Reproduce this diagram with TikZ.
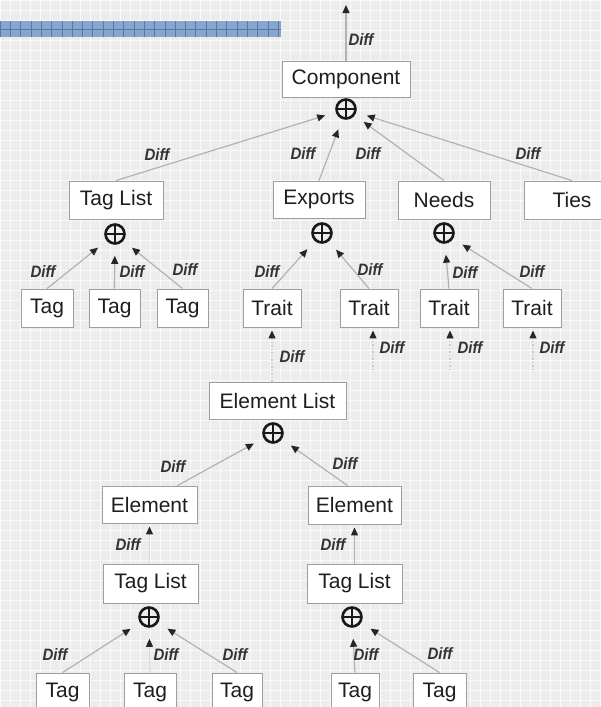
\documentclass[tikz,border=0pt]{standalone}
\usepackage{fontspec}
\setmainfont{Liberation Sans}
\usetikzlibrary{arrows.meta}
\definecolor{bgc}{RGB}{236,236,236}
\definecolor{barc}{RGB}{135,165,205}
\definecolor{barl}{RGB}{85,120,170}
\definecolor{linec}{RGB}{178,178,178}
\definecolor{txt}{RGB}{30,30,30}
\tikzset{
  box/.style={draw=black!38, line width=0.9pt, fill=white, text=txt, inner sep=0pt,
    font=\fontsize{21}{24}\selectfont},
  oplus/.style={circle, draw=black!90, line width=2.6pt, minimum size=19, inner sep=0pt,
    path picture={\draw[line width=2.2pt,black!90]
      (path picture bounding box.north) -- (path picture bounding box.south)
      (path picture bounding box.west) -- (path picture bounding box.east);}},
  arr/.style={draw=linec, line width=1.2pt, -{Triangle[length=8pt,width=7pt,color=black!85]}},
  toop/.style={arr, shorten >=11pt},
  tobox/.style={arr, shorten >=3pt},
  faint/.style={draw=black!15},
  dotl/.style={draw=black!20, dash pattern=on 1.5pt off 2pt},
  lab/.style={text=black!80, inner sep=0pt, yscale=1.1, font=\fontsize{15}{16}\selectfont\bfseries\itshape},
}
\begin{document}
\begin{tikzpicture}[x=1pt,y=-1pt]
\useasboundingbox (0,0) rectangle (601,707);
% background
\fill[bgc] (0,0) rectangle (601,707);
\foreach \i in {0,10,...,600} {\draw[white, line width=0.8pt, opacity=0.7] (\i,0) -- (\i,707);}
\foreach \j in {0,10,...,700} {\draw[white, line width=0.8pt, opacity=0.7] (0,\j) -- (601,\j);}
% blue bar
\fill[barc] (0,21) rectangle (281,37);
\foreach \i in {0,10.3,...,281} {\draw[barl, line width=0.6pt] (\i,21) -- (\i,37);}
\draw[barl, line width=0.8pt] (0,29.5) -- (281,29.5);

% boxes
\node[box, minimum width=128, minimum height=36] (comp) at (346,79) {Component};
\node[oplus] (o1) at (346,109) {};
\node[box, minimum width=94, minimum height=38] (tl1) at (116,200) {Tag List};
\node[box, minimum width=92, minimum height=37] (exp) at (319,199.5) {Exports};
\node[box, minimum width=92, minimum height=38] (needs) at (444,200) {Needs};
\node[box, minimum width=96, minimum height=38] (ties) at (572,200) {Ties};
\node[oplus] (o2) at (115,234) {};
\node[oplus] (o3) at (322,233) {};
\node[oplus] (o4) at (444,233) {};
\node[box, minimum width=52, minimum height=38] (tag1) at (47,308) {Tag};
\node[box, minimum width=51, minimum height=38] (tag2) at (114.5,308) {Tag};
\node[box, minimum width=51, minimum height=38] (tag3) at (182.5,308) {Tag};
\node[box, minimum width=58, minimum height=38] (tr1) at (272,308) {Trait};
\node[box, minimum width=58, minimum height=38] (tr2) at (369,308) {Trait};
\node[box, minimum width=58, minimum height=38] (tr3) at (449,308) {Trait};
\node[box, minimum width=58, minimum height=38] (tr4) at (532,308) {Trait};
\node[box, minimum width=137, minimum height=37] (el) at (277.5,400.5) {Element List};
\node[oplus] (o5) at (273,433) {};
\node[box, minimum width=95, minimum height=37] (e1) at (149.5,504.5) {Element};
\node[box, minimum width=93, minimum height=38] (e2) at (354.5,505) {Element};
\node[box, minimum width=95, minimum height=39] (tl2) at (150.5,583.5) {Tag List};
\node[box, minimum width=95, minimum height=39] (tl3) at (354.5,583.5) {Tag List};
\node[oplus] (o6) at (149,617) {};
\node[oplus] (o7) at (352,617) {};
\node[box, minimum width=53, minimum height=38] (ta) at (62.5,692) {Tag};
\node[box, minimum width=52, minimum height=38] (tb) at (150,692) {Tag};
\node[box, minimum width=50, minimum height=38] (tc) at (237,692) {Tag};
\node[box, minimum width=48, minimum height=38] (td) at (355,692) {Tag};
\node[box, minimum width=53, minimum height=38] (te) at (439.5,692) {Tag};

% free ends
\coordinate (topc) at (346,5);
\coordinate (f2) at (373,370);
\coordinate (f3) at (450,370);
\coordinate (f4) at (533,370);

% connectors
\draw[arr] (comp.north) -- (topc);
\draw[toop] (tl1.north) -- (o1);
\draw[toop] (exp.north) -- (o1);
\draw[toop] (needs.north) -- (o1);
\draw[toop] (ties.north) -- (o1);
\draw[toop] (tag1.north) -- (o2);
\draw[toop] (tag2.north) -- (o2);
\draw[toop] (tag3.north) -- (o2);
\draw[toop] (tr1.north) -- (o3);
\draw[toop] (tr2.north) -- (o3);
\draw[toop] (tr3.north) -- (o4);
\draw[toop] (tr4.north) -- (o4);
\draw[tobox, dotl] (el.north -| tr1.south) -- (tr1.south);
\draw[tobox, dotl] (f2) -- (tr2.south -| f2);
\draw[tobox, dotl] (f3) -- (tr3.south -| f3);
\draw[tobox, dotl] (f4) -- (tr4.south -| f4);
\draw[toop] ([xshift=28pt]e1.north) -- (o5);
\draw[toop] ([xshift=-7pt]e2.north) -- (o5);
\draw[tobox, faint] (tl2.north -| e1.south) -- (e1.south);
\draw[tobox] (tl3.north -| e2.south) -- (e2.south);
\draw[toop] (ta.north) -- (o6);
\draw[toop, faint] (tb.north) -- (o6);
\draw[toop] (tc.north) -- (o6);
\draw[toop] (td.north) -- (o7);
\draw[toop] (te.north) -- (o7);

% labels
\node[lab] (l0) at (361,40) {Diff};
\node[lab] (l1) at (157,155) {Diff};
\node[lab] (l2) at (303,154) {Diff};
\node[lab] (l3) at (368,154) {Diff};
\node[lab] (l4) at (528,154) {Diff};
\node[lab] (l5) at (43,272) {Diff};
\node[lab] (l6) at (132,272) {Diff};
\node[lab] (l7) at (185,270) {Diff};
\node[lab] (l8) at (267,272) {Diff};
\node[lab] (l9) at (370,270) {Diff};
\node[lab] (l10) at (465,273) {Diff};
\node[lab] (l11) at (532,272) {Diff};
\node[lab] (l12) at (292,357) {Diff};
\node[lab] (l13) at (392,348) {Diff};
\node[lab] (l14) at (470,348) {Diff};
\node[lab] (l15) at (552,348) {Diff};
\node[lab] (l16) at (173,467) {Diff};
\node[lab] (l17) at (345,464) {Diff};
\node[lab] (l18) at (128,545) {Diff};
\node[lab] (l19) at (333,545) {Diff};
\node[lab] (l20) at (55,655) {Diff};
\node[lab] (l21) at (166,655) {Diff};
\node[lab] (l22) at (235,655) {Diff};
\node[lab] (l23) at (366,655) {Diff};
\node[lab] (l24) at (440,654) {Diff};
\end{tikzpicture}
\end{document}
